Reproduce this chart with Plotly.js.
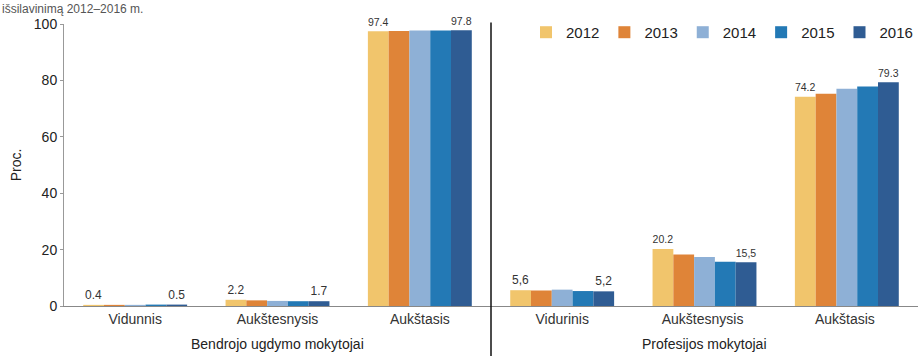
<!DOCTYPE html>
<html><head><meta charset="utf-8">
<script src="https://cdn.plot.ly/plotly-3.0.1.min.js"></script>
<style>html,body{margin:0;padding:0;background:#fff;}#chart{width:918px;height:356px;}</style>
</head><body><div id="chart"></div>
<script>
const categories = ["Vidunnis", "Aukštesnysis", "Aukštasis", "Vidurinis", "Aukštesnysis ", "Aukštasis "];
const groupLabels = ["Bendrojo ugdymo mokytojai", "Profesijos mokytojai"];
const years = ["2012", "2013", "2014", "2015", "2016"];
const v2012 = [0.4, 2.2, 97.4, 5.6, 20.2, 74.2];
const v2013 = [0.4, 2.0, 97.5, 5.5, 18.3, 75.3];
const v2014 = [0.4, 1.8, 97.7, 5.8, 17.4, 77.0];
const v2015 = [0.5, 1.7, 97.7, 5.3, 15.7, 77.8];
const v2016 = [0.5, 1.7, 97.8, 5.2, 15.5, 79.3];
const labels2012 = ["0.4", "2.2", "97.4", "5,6", "20.2", "74.2"];
const labels2016 = ["0.5", "1.7", "97.8", "5,2", "15,5", "79.3"];
const colors = ["#f1c56c", "#df8438", "#8eb0d6", "#2379b5", "#2f5c93"];

const series = [v2012, v2013, v2014, v2015, v2016];
const labelSets = {0: labels2012, 4: labels2016};
const FONT = "Liberation Sans, Arial, sans-serif";

const traces = series.map((vals, i) => ({
  type: "bar",
  name: years[i],
  x: categories,
  y: vals,
  marker: {color: colors[i], line: {width: 0}},
  text: labelSets[i] || null,
  textposition: labelSets[i] ? "outside" : "none",
  textfont: {family: FONT, size: 12, color: "#333"},
  cliponaxis: false,
  hoverinfo: "x+y+name"
}));

const layout = {
  width: 918, height: 356,
  margin: {l: 64, r: 0, t: 24, b: 50},
  paper_bgcolor: "#fff", plot_bgcolor: "#fff",
  barmode: "group", bargap: 0.27, bargroupgap: 0,
  font: {family: FONT, size: 14, color: "#222"},
  showlegend: true,
  legend: {orientation: "h", x: 1, xanchor: "right", y: 0.97, yanchor: "middle",
    font: {family: FONT, size: 15, color: "#222"}, itemwidth: 30, traceorder: "normal",
    bgcolor: "rgba(0,0,0,0)"},
  xaxis: {type: "category", showgrid: false, showline: true, linecolor: "#888", linewidth: 1,
    ticks: "", tickfont: {family: FONT, size: 14, color: "#333"}, fixedrange: true},
  yaxis: {range: [0, 100], tickvals: [0, 20, 40, 60, 80, 100], showgrid: false, zeroline: false,
    showline: true, linecolor: "#999", linewidth: 1, ticks: "outside", ticklen: 3, tickcolor: "#999",
    tickfont: {family: FONT, size: 14, color: "#222"},
    title: {text: "Proc.", font: {family: FONT, size: 14, color: "#222"}, standoff: 8}},
  shapes: [{type: "line", xref: "x", yref: "paper", x0: 2.5, x1: 2.5, y0: 1.005, y1: -0.2,
    line: {color: "#111", width: 1.5}}],
  annotations: [
    {text: groupLabels[0], xref: "paper", yref: "paper", x: 0.25, xanchor: "center", y: -0.136, yanchor: "middle",
     showarrow: false, font: {family: FONT, size: 14, color: "#222"}},
    {text: groupLabels[1], xref: "paper", yref: "paper", x: 0.75, xanchor: "center", y: -0.136, yanchor: "middle",
     showarrow: false, font: {family: FONT, size: 14, color: "#222"}},
    {text: "išsilavinimą 2012–2016 m.", xref: "paper", yref: "paper", x: -0.075, xanchor: "left",
     y: 1 + 24/282, yanchor: "top", showarrow: false, font: {family: FONT, size: 12, color: "#555"}}
  ]
};

Plotly.newPlot("chart", traces, layout, {displayModeBar: false, staticPlot: true});
</script></body></html>
